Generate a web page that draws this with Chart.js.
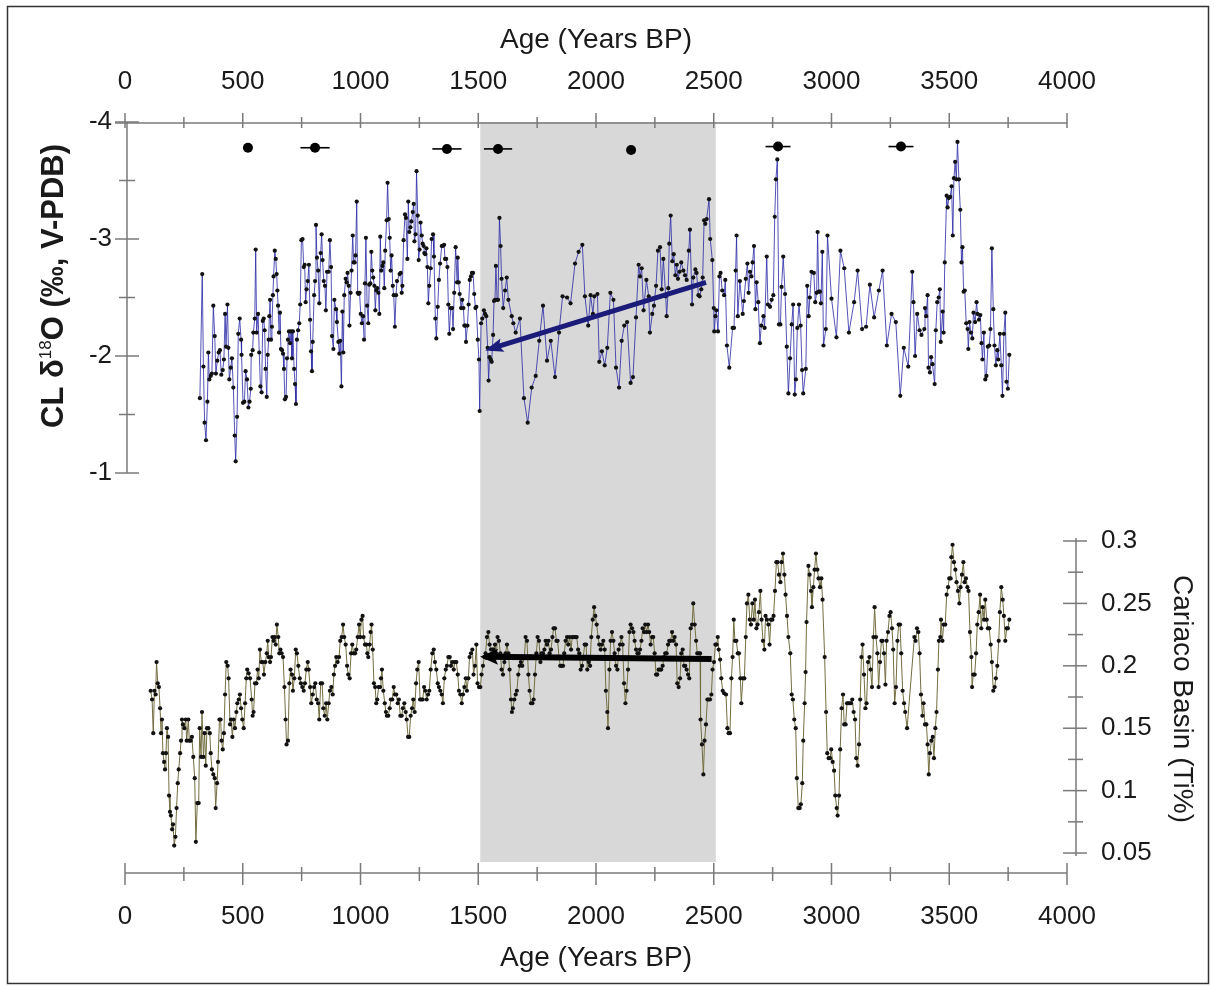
<!DOCTYPE html>
<html lang="en">
<head>
    <meta charset="UTF-8">
    <title>CL d18O and Cariaco Ti</title>
    <style>
        html, body { margin: 0; padding: 0; background: #fff; }
        canvas { display: block; }
    </style>
</head>
<body>
    <canvas id="myChart" width="1214" height="986"></canvas>

    <script src="https://cdn.jsdelivr.net/npm/chart.js"></script>

    <script>
        // CL d18O record (age in years BP, permil V-PDB)
        const clAge = [
            318,328,333,338,344,350,354,358,364,369,
            375,381,386,392,398,403,409,415,420,425,
            429,435,439,443,449,454,460,466,470,476,
            481,487,493,495,501,507,512,518,524,529,
            534,536,542,545,551,555,559,565,570,575,
            580,585,589,593,597,602,606,610,613,616,
            620,624,628,631,636,640,644,647,650,654,
            658,662,667,671,675,679,684,688,692,696,
            701,705,709,713,718,722,726,730,735,740,
            744,749,754,759,763,767,771,776,781,786,
            790,794,797,803,807,811,815,820,825,831,
            835,839,844,849,853,858,865,870,875,879,
            885,889,896,900,906,910,914,919,923,927,
            931,937,941,945,950,953,958,962,967,971,
            975,979,984,988,992,996,1001,1006,1011,1015,
            1019,1023,1028,1033,1037,1042,1046,1050,1054,1059,
            1063,1067,1071,1076,1080,1084,1088,1093,1097,1101,
            1105,1111,1115,1120,1124,1128,1132,1137,1141,1146,
            1151,1155,1166,1171,1175,1178,1183,1189,1193,1199,
            1203,1207,1212,1216,1222,1226,1229,1234,1238,1243,
            1247,1251,1255,1260,1264,1268,1271,1275,1280,1284,
            1288,1292,1298,1302,1308,1312,1318,1322,1328,1333,
            1338,1345,1349,1355,1359,1364,1369,1373,1377,1383,
            1389,1393,1398,1404,1410,1413,1417,1421,1427,1432,
            1437,1441,1445,1448,1454,1459,1464,1469,1473,1478,
            1483,1488,1492,1498,1503,1506,1512,1517,1524,1529,
            1534,1540,1544,1548,1553,1557,1563,1567,1571,1575,
            1580,1584,1590,1595,1599,1606,1614,1621,1628,1642,
            1649,1659,1677,1694,1710,1727,1744,1759,1775,1792,
            1808,1826,1843,1858,1877,1892,1911,1926,1942,1953,
            1967,1977,1987,1993,2006,2014,2025,2037,2048,2061,
            2074,2085,2098,2109,2120,2132,2147,2157,2170,2181,
            2187,2194,2202,2214,2224,2229,2239,2246,2255,2263,
            2272,2279,2286,2296,2300,2307,2311,2317,2324,2330,
            2337,2343,2348,2355,2362,2371,2378,2385,2394,2399,
            2408,2413,2422,2427,2435,2440,2447,2453,2459,2464,
            2470,2480,2485,2494,2500,2502,2507,2511,2518,2524,
            2529,2536,2544,2549,2556,2566,2580,2586,2593,2597,
            2602,2611,2623,2628,2636,2643,2648,2654,2660,2665,
            2671,2677,2682,2689,2696,2702,2711,2716,2725,2730,
            2739,2746,2753,2759,2764,2770,2777,2783,2788,2795,
            2803,2810,2817,2824,2831,2837,2844,2849,2855,2862,
            2869,2875,2880,2891,2897,2903,2908,2915,2925,2931,
            2937,2941,2946,2951,2955,2961,2966,2976,2983,3000,
            3021,3038,3054,3074,3096,3111,3130,3147,3163,3181,
            3201,3217,3235,3255,3273,3292,3307,3326,3343,3348,
            3355,3364,3374,3382,3394,3397,3402,3408,3412,3418,
            3423,3429,3438,3443,3449,3455,3460,3464,3472,3476,
            3481,3489,3493,3498,3504,3510,3515,3520,3525,3530,
            3535,3541,3547,3552,3556,3561,3566,3572,3578,3581,
            3586,3592,3598,3603,3610,3616,3620,3626,3632,3637,
            3641,3647,3653,3658,3664,3670,3675,3681,3687,3692,
            3698,3704,3708,3715,3721,3726,3732,3738,3743,3749,3755
        ];
        const clD18O = [
            -1.64,-2.70,-1.91,-1.43,-1.28,-1.61,-2.03,-1.80,-1.83,-1.85,
            -2.43,-2.17,-1.85,-1.96,-2.03,-2.05,-1.84,-1.88,-1.97,-2.36,
            -2.08,-2.44,-2.07,-1.80,-1.90,-1.98,-1.73,-1.32,-1.10,-1.48,
            -2.19,-2.32,-2.14,-2.01,-1.60,-1.61,-1.87,-1.80,-1.56,-1.61,
            -1.72,-2.01,-2.05,-2.20,-2.32,-2.91,-2.20,-2.36,-2.03,-1.74,
            -1.69,-2.30,-2.32,-2.22,-1.89,-1.65,-2.01,-2.14,-2.34,-2.48,
            -2.14,-2.25,-2.52,-2.68,-2.90,-2.83,-2.70,-2.56,-2.43,-2.20,
            -2.37,-2.06,-2.05,-2.02,-1.89,-1.63,-1.65,-1.98,-2.14,-2.21,
            -2.11,-2.21,-1.98,-2.21,-1.89,-1.76,-1.59,-2.14,-2.22,-2.28,
            -2.44,-2.99,-3.00,-2.76,-2.78,-2.46,-2.57,-2.64,-2.78,-2.31,
            -2.04,-1.87,-2.12,-2.52,-2.64,-3.12,-2.84,-2.73,-2.45,-2.88,
            -3.04,-2.82,-2.64,-2.60,-2.39,-2.72,-2.72,-2.99,-2.76,-2.17,
            -2.06,-2.48,-2.40,-2.29,-2.12,-2.02,-2.13,-1.74,-2.38,-2.03,
            -2.52,-2.66,-2.63,-2.71,-2.60,-2.26,-2.54,-2.73,-3.03,-2.80,
            -2.80,-2.86,-3.32,-2.54,-2.53,-2.54,-2.36,-2.28,-2.34,-2.14,
            -2.62,-3.01,-2.43,-2.28,-2.61,-2.62,-2.89,-2.73,-2.67,-2.60,
            -2.39,-2.56,-2.58,-2.54,-2.36,-3.02,-2.73,-2.77,-2.80,-2.58,
            -2.90,-3.16,-3.48,-3.17,-3.01,-2.73,-2.86,-2.60,-2.52,-2.25,
            -2.52,-2.64,-2.70,-2.71,-2.54,-2.60,-2.99,-3.21,-3.18,-2.83,
            -3.32,-3.06,-3.10,-3.15,-3.23,-3.30,-2.98,-3.04,-3.58,-3.20,
            -2.82,-2.91,-3.14,-3.03,-2.96,-2.94,-2.88,-2.87,-2.92,-2.76,
            -2.45,-2.60,-2.75,-3.00,-3.04,-2.85,-2.32,-2.15,-2.42,-2.65,
            -2.79,-2.94,-2.94,-2.95,-2.83,-2.83,-2.76,-2.44,-2.19,-2.41,
            -2.41,-2.23,-2.54,-2.93,-2.63,-2.84,-2.63,-2.53,-2.41,-2.48,
            -2.41,-2.26,-2.26,-2.12,-2.26,-2.44,-2.65,-2.68,-2.71,-2.71,
            -2.53,-2.41,-2.42,-2.14,-1.97,-1.53,-2.28,-2.32,-2.39,-2.36,
            -2.34,-2.07,-1.79,-1.99,-1.97,-1.95,-2.18,-2.47,-2.48,-2.77,
            -2.48,-2.48,-3.18,-2.94,-2.66,-2.41,-2.56,-2.67,-2.48,-2.34,
            -2.28,-2.20,-2.32,-1.64,-1.43,-1.73,-1.83,-2.13,-2.43,-1.96,
            -2.13,-1.82,-2.20,-2.51,-2.50,-2.45,-2.79,-2.89,-2.95,-2.51,
            -2.26,-2.52,-2.36,-2.51,-2.53,-1.95,-2.04,-1.92,-2.07,-2.54,
            -2.48,-1.90,-1.73,-2.13,-2.26,-2.29,-1.77,-1.82,-2.33,-2.78,
            -2.68,-2.75,-2.39,-2.65,-2.51,-2.20,-2.36,-2.43,-2.60,-2.90,
            -2.93,-2.57,-2.83,-2.51,-2.34,-2.58,-2.96,-3.20,-2.81,-2.87,
            -2.69,-2.78,-2.66,-2.72,-2.80,-2.73,-2.69,-2.65,-2.90,-3.08,
            -2.44,-2.67,-2.74,-2.71,-2.52,-2.51,-2.57,-2.67,-3.16,-3.13,
            -3.17,-3.34,-3.00,-2.82,-2.41,-2.21,-2.34,-2.39,-2.21,-2.68,
            -2.71,-2.56,-2.52,-2.65,-2.09,-1.90,-2.24,-2.24,-2.73,-3.03,
            -2.34,-2.64,-2.36,-2.47,-2.66,-2.79,-2.54,-2.72,-2.68,-2.80,
            -2.94,-2.40,-2.63,-2.46,-2.11,-2.26,-2.34,-2.24,-2.85,-2.44,
            -2.42,-2.48,-2.52,-3.19,-3.51,-3.68,-2.27,-2.27,-2.59,-2.85,
            -2.53,-2.08,-1.68,-1.98,-2.27,-2.44,-1.67,-1.80,-2.24,-2.44,
            -2.26,-1.88,-1.68,-1.89,-2.60,-2.34,-2.50,-2.72,-2.71,-2.46,
            -2.54,-3.06,-2.55,-2.55,-2.45,-2.89,-2.09,-2.23,-3.03,-2.49,
            -2.16,-2.90,-2.75,-2.20,-2.46,-2.73,-2.23,-2.25,-2.61,-2.33,
            -2.56,-2.73,-2.09,-2.36,-2.29,-1.66,-2.07,-1.91,-2.72,-2.46,
            -2.00,-2.36,-2.22,-2.18,-2.23,-2.41,-2.34,-2.52,-1.90,-1.86,
            -1.99,-1.93,-1.76,-2.22,-2.46,-2.50,-2.57,-2.12,-2.38,-2.20,
            -2.80,-3.37,-3.27,-3.35,-3.36,-3.45,-3.03,-3.52,-3.66,-3.51,
            -3.83,-3.51,-3.25,-2.80,-2.93,-2.55,-2.56,-2.28,-2.23,-2.06,
            -2.29,-2.20,-2.15,-2.37,-2.29,-2.46,-2.36,-2.31,-2.35,-2.11,
            -1.97,-2.20,-1.80,-1.83,-2.08,-2.09,-2.23,-2.92,-2.40,-2.09,
            -1.92,-2.05,-1.97,-2.19,-1.92,-1.66,-2.19,-2.37,-1.78,-1.72,-2.01
        ];

        // Cariaco Basin Ti record (age in years BP, Ti %)
        const tiAge = [
            109,115,120,125,130,134,139,144,149,153,
            157,161,166,170,174,178,183,187,191,195,
            200,204,209,214,219,224,228,234,238,242,
            246,252,258,262,269,273,279,284,290,296,
            301,307,313,317,323,327,333,338,343,348,
            354,360,364,369,375,381,385,391,395,401,
            406,410,415,420,425,430,436,440,446,450,
            456,461,467,473,477,483,488,493,498,504,
            510,515,519,525,531,538,542,546,552,558,
            563,568,573,579,585,590,596,602,606,610,
            616,620,626,631,636,640,645,651,655,660,
            665,671,677,682,686,692,698,703,709,713,
            719,725,730,736,742,747,753,759,764,770,
            776,780,786,791,797,803,808,814,820,825,
            831,837,842,848,854,859,865,870,876,882,
            887,892,897,903,909,914,920,926,931,937,
            943,948,954,960,965,971,977,982,988,994,
            999,1004,1009,1013,1019,1025,1029,1033,1039,1043,
            1047,1052,1057,1062,1067,1071,1077,1083,1087,1091,
            1097,1103,1108,1112,1118,1124,1129,1135,1141,1146,
            1152,1158,1163,1169,1175,1180,1186,1192,1196,1202,
            1207,1213,1219,1224,1230,1236,1241,1247,1253,1258,
            1264,1270,1275,1281,1287,1292,1298,1305,1311,1316,
            1322,1328,1333,1339,1345,1350,1356,1362,1367,1373,
            1379,1384,1390,1396,1401,1407,1413,1418,1424,1430,
            1435,1441,1447,1452,1458,1463,1469,1475,1480,1486,
            1492,1497,1503,1509,1514,1520,1526,1531,1537,1543,
            1548,1554,1560,1565,1571,1577,1582,1588,1594,1599,
            1605,1611,1616,1622,1628,1633,1639,1643,1647,1653,
            1659,1664,1670,1676,1681,1687,1696,1701,1707,1713,
            1718,1724,1730,1735,1741,1747,1752,1758,1764,1769,
            1775,1781,1786,1792,1798,1803,1809,1815,1820,1826,
            1832,1837,1843,1848,1854,1860,1865,1871,1877,1882,
            1888,1894,1899,1905,1912,1918,1924,1929,1935,1941,
            1946,1952,1958,1963,1969,1975,1980,1986,1992,1997,
            2003,2009,2014,2020,2025,2031,2037,2042,2048,2051,
            2057,2062,2068,2074,2079,2085,2091,2096,2102,2108,
            2113,2119,2125,2130,2136,2142,2147,2153,2159,2164,
            2170,2176,2181,2187,2193,2198,2204,2209,2215,2221,
            2226,2232,2238,2243,2249,2255,2260,2266,2272,2277,
            2283,2289,2294,2300,2306,2311,2317,2323,2328,2334,
            2340,2345,2351,2357,2362,2368,2374,2379,2385,2391,
            2396,2402,2408,2413,2419,2425,2430,2436,2442,2444,
            2450,2456,2461,2467,2473,2478,2484,2490,2495,2501,
            2507,2512,2517,2521,2527,2532,2538,2544,2552,2558,
            2563,2569,2575,2580,2585,2590,2596,2602,2607,2613,
            2617,2624,2630,2636,2641,2647,2653,2658,2664,2670,
            2675,2681,2686,2692,2698,2703,2709,2715,2720,2726,
            2732,2737,2743,2749,2754,2760,2766,2771,2777,2783,
            2788,2794,2800,2805,2811,2817,2825,2831,2836,2842,
            2848,2853,2859,2865,2870,2876,2880,2886,2890,2894,
            2902,2907,2913,2917,2923,2928,2934,2940,2945,2951,
            2957,2962,2971,2977,2982,2988,2994,2999,3005,3011,
            3016,3022,3026,3032,3037,3043,3049,3054,3060,3066,
            3071,3077,3083,3088,3094,3100,3105,3111,3117,3122,
            3127,3132,3138,3144,3149,3155,3161,3166,3172,3178,
            3183,3189,3195,3200,3206,3212,3217,3223,3229,3234,
            3240,3246,3251,3257,3262,3268,3274,3280,3285,3291,
            3296,3302,3308,3313,3321,3352,3357,3363,3369,3374,
            3380,3386,3391,3397,3403,3408,3413,3418,3424,3430,
            3435,3441,3446,3452,3456,3462,3465,3471,3476,3483,
            3489,3495,3500,3506,3509,3514,3520,3526,3531,3537,
            3543,3548,3554,3560,3565,3571,3577,3582,3588,3594,
            3597,3602,3608,3614,3619,3625,3631,3636,3642,3648,
            3653,3659,3664,3670,3676,3681,3687,3693,3698,3704,
            3710,3715,3721,3727,3732,3738,3744,3749,3755
        ];
        const tiPct = [
            0.180,0.173,0.146,0.180,0.177,0.203,0.186,0.183,0.166,0.146,
            0.157,0.130,0.123,0.117,0.130,0.150,0.143,0.096,0.083,0.080,
            0.069,0.073,0.056,0.063,0.086,0.106,0.117,0.130,0.140,0.157,
            0.153,0.150,0.157,0.140,0.157,0.140,0.140,0.143,0.127,0.110,
            0.059,0.090,0.090,0.150,0.127,0.163,0.127,0.146,0.120,0.150,
            0.150,0.146,0.130,0.117,0.113,0.110,0.086,0.106,0.123,0.157,
            0.157,0.140,0.133,0.146,0.177,0.203,0.200,0.190,0.153,0.157,
            0.143,0.157,0.150,0.163,0.170,0.173,0.177,0.166,0.157,0.150,
            0.170,0.190,0.197,0.194,0.190,0.173,0.160,0.163,0.186,0.186,
            0.197,0.190,0.213,0.203,0.203,0.193,0.203,0.210,0.220,0.207,
            0.203,0.207,0.223,0.220,0.223,0.217,0.233,0.223,0.210,0.213,
            0.210,0.207,0.183,0.157,0.137,0.140,0.186,0.197,0.193,0.180,
            0.190,0.213,0.210,0.200,0.190,0.186,0.183,0.180,0.186,0.197,
            0.203,0.197,0.183,0.170,0.177,0.183,0.186,0.173,0.170,0.157,
            0.186,0.186,0.166,0.160,0.170,0.157,0.170,0.180,0.183,0.177,
            0.193,0.200,0.207,0.203,0.207,0.220,0.223,0.233,0.223,0.217,
            0.200,0.193,0.190,0.210,0.217,0.210,0.210,0.213,0.223,0.233,
            0.223,0.237,0.240,0.223,0.217,0.217,0.210,0.207,0.217,0.227,
            0.233,0.213,0.186,0.183,0.170,0.173,0.183,0.183,0.190,0.197,
            0.180,0.170,0.163,0.160,0.160,0.166,0.173,0.173,0.183,0.177,
            0.177,0.170,0.173,0.160,0.160,0.166,0.170,0.163,0.157,0.143,
            0.143,0.160,0.166,0.173,0.163,0.186,0.197,0.203,0.173,0.173,
            0.173,0.183,0.180,0.173,0.177,0.180,0.197,0.210,0.213,0.203,
            0.197,0.186,0.183,0.180,0.177,0.170,0.190,0.197,0.200,0.207,
            0.207,0.200,0.203,0.197,0.203,0.203,0.193,0.180,0.177,0.170,
            0.177,0.183,0.190,0.180,0.190,0.207,0.210,0.213,0.193,0.200,
            0.217,0.186,0.183,0.183,0.193,0.200,0.207,0.210,0.223,0.227,
            0.217,0.213,0.213,0.213,0.217,0.210,0.223,0.220,0.210,0.197,
            0.193,0.203,0.210,0.217,0.210,0.197,0.173,0.163,0.166,0.173,
            0.177,0.180,0.193,0.200,0.203,0.200,0.207,0.223,0.220,0.193,
            0.180,0.170,0.170,0.173,0.193,0.210,0.223,0.220,0.203,0.210,
            0.210,0.213,0.220,0.217,0.220,0.210,0.213,0.223,0.230,0.230,
            0.220,0.220,0.207,0.200,0.200,0.200,0.210,0.220,0.223,0.217,
            0.223,0.213,0.223,0.223,0.223,0.223,0.213,0.210,0.197,0.200,
            0.207,0.217,0.217,0.197,0.203,0.200,0.223,0.237,0.247,0.240,
            0.233,0.223,0.217,0.213,0.217,0.220,0.213,0.180,0.163,0.150,
            0.197,0.220,0.227,0.220,0.210,0.200,0.197,0.213,0.217,0.223,
            0.217,0.186,0.170,0.180,0.197,0.227,0.233,0.230,0.227,0.220,
            0.213,0.210,0.210,0.213,0.220,0.230,0.227,0.233,0.227,0.233,
            0.227,0.217,0.223,0.223,0.210,0.193,0.193,0.197,0.197,0.197,
            0.200,0.207,0.210,0.210,0.217,0.220,0.220,0.227,0.220,0.223,
            0.217,0.186,0.183,0.190,0.210,0.213,0.200,0.200,0.197,0.193,
            0.190,0.230,0.233,0.250,0.233,0.220,0.210,0.210,0.210,0.157,
            0.137,0.113,0.140,0.153,0.173,0.173,0.173,0.177,0.197,0.203,
            0.217,0.217,0.223,0.213,0.205,0.190,0.180,0.178,0.177,0.150,
            0.146,0.146,0.190,0.207,0.237,0.220,0.220,0.210,0.210,0.190,
            0.170,0.190,0.190,0.223,0.250,0.257,0.237,0.233,0.250,0.237,
            0.253,0.230,0.233,0.243,0.260,0.237,0.220,0.213,0.240,0.237,
            0.233,0.217,0.237,0.237,0.240,0.260,0.283,0.283,0.273,0.267,
            0.283,0.290,0.273,0.257,0.240,0.223,0.210,0.177,0.173,0.157,
            0.150,0.110,0.086,0.086,0.089,0.106,0.140,0.170,0.195,0.235,
            0.280,0.273,0.260,0.247,0.263,0.277,0.290,0.277,0.270,0.263,
            0.270,0.253,0.207,0.163,0.130,0.126,0.126,0.133,0.123,0.116,
            0.096,0.086,0.080,0.096,0.133,0.166,0.177,0.153,0.153,0.170,
            0.170,0.170,0.170,0.173,0.163,0.157,0.126,0.120,0.137,0.173,
            0.207,0.217,0.193,0.166,0.170,0.203,0.207,0.197,0.183,0.223,
            0.247,0.223,0.210,0.183,0.203,0.220,0.220,0.210,0.185,0.220,
            0.227,0.240,0.243,0.230,0.213,0.170,0.183,0.220,0.233,0.233,
            0.210,0.180,0.170,0.163,0.150,0.223,0.220,0.230,0.227,0.210,
            0.177,0.160,0.170,0.153,0.153,0.137,0.113,0.130,0.140,0.143,
            0.126,0.150,0.163,0.197,0.220,0.223,0.237,0.220,0.233,0.233,
            0.257,0.263,0.270,0.270,0.287,0.297,0.283,0.277,0.267,0.260,
            0.250,0.263,0.273,0.283,0.267,0.270,0.263,0.260,0.227,0.207,
            0.183,0.193,0.193,0.210,0.233,0.243,0.257,0.230,0.247,0.237,
            0.253,0.237,0.230,0.230,0.217,0.203,0.180,0.183,0.190,0.200,
            0.220,0.243,0.263,0.253,0.240,0.220,0.230,0.230,0.237
        ];

        // U-Th dates with 2-sigma age errors, plotted along the top
        const datingAge = [522, 807, 1367, 1584, 2149, 2773, 3295];
        const datingErr = [18, 62, 62, 60, 10, 53, 53];
        const datingLevel = [-3.78, -3.78, -3.77, -3.77, -3.76, -3.79, -3.79];

        const ageTicks = [0, 500, 1000, 1500, 2000, 2500, 3000, 3500, 4000];
        const ageMinorTicks = [250, 750, 1250, 1750, 2250, 2750, 3250, 3750];
        const d18oTicks = [-4, -3, -2, -1];
        const d18oMinorTicks = [-3.5, -2.5, -1.5];
        const tiTicks = [0.05, 0.1, 0.15, 0.2, 0.25, 0.3];
        const tiMinorTicks = [0.075, 0.125, 0.175, 0.225, 0.275];

        const shadeFrom = 1500;
        const shadeTo = 2500;

        // trend arrows: tail first, head last
        const blueArrowAge = [2467, 1550];
        const blueArrowVal = [-2.63, -2.06];
        const blackArrowAge = [2491, 1529];
        const blackArrowVal = [0.2055, 0.2073];

        const FONT = "'Liberation Sans', Arial, sans-serif";
        const AXIS_GRAY = '#7a7a7a';

        const toXY = (xs, ys) => xs.map((v, i) => ({ x: v, y: ys[i] }));

        function arrowHead(ctx, meta, color, len, half) {
            const pts = meta.data;
            const a = pts[pts.length - 2], b = pts[pts.length - 1];
            const ang = Math.atan2(b.y - a.y, b.x - a.x);
            const tx = b.x + Math.cos(ang) * 5, ty = b.y + Math.sin(ang) * 5;
            ctx.save();
            ctx.fillStyle = color;
            ctx.translate(tx, ty);
            ctx.rotate(ang);
            ctx.beginPath();
            ctx.moveTo(0, 0);
            ctx.lineTo(-len, -half);
            ctx.lineTo(-len * 0.8, 0);
            ctx.lineTo(-len, half);
            ctx.closePath();
            ctx.fill();
            ctx.restore();
        }

        const figurePlugin = {
            id: 'figure',
            beforeDraw(chart) {
                const ctx = chart.ctx;
                ctx.save();
                ctx.fillStyle = '#fff';
                ctx.fillRect(0, 0, chart.width, chart.height);
                ctx.restore();
            },
            beforeDatasetsDraw(chart) {
                const { ctx, chartArea: a, scales: { x } } = chart;
                const x0 = x.getPixelForValue(shadeFrom), x1 = x.getPixelForValue(shadeTo);
                ctx.save();
                ctx.fillStyle = '#d8d8d8';
                ctx.fillRect(x0 + 2, a.top, x1 - x0, a.bottom - 8 - a.top);
                ctx.restore();
            },
            afterDatasetsDraw(chart) {
                const { ctx, scales: { x, y } } = chart;
                // error bars on dates
                ctx.save();
                ctx.strokeStyle = '#000';
                ctx.lineWidth = 1.6;
                datingAge.forEach((age, i) => {
                    const py = y.getPixelForValue(datingLevel[i]);
                    ctx.beginPath();
                    ctx.moveTo(x.getPixelForValue(age - datingErr[i]), py);
                    ctx.lineTo(x.getPixelForValue(age + datingErr[i]), py);
                    ctx.stroke();
                });
                ctx.restore();
                arrowHead(ctx, chart.getDatasetMeta(0), '#1b1b7a', 18, 7);
                arrowHead(ctx, chart.getDatasetMeta(1), '#000', 18, 8);
            },
            afterDraw(chart) {
                const { ctx, chartArea: a, scales: { x, y, y2 } } = chart;
                ctx.save();
                ctx.strokeStyle = AXIS_GRAY;
                ctx.lineWidth = 1.5;
                const line = (x0, y0, x1, y1) => {
                    ctx.beginPath(); ctx.moveTo(x0, y0); ctx.lineTo(x1, y1); ctx.stroke();
                };
                // top age axis
                const yt = a.top + 1;
                line(x.getPixelForValue(0) - 10, yt, x.getPixelForValue(4000), yt);
                ageTicks.forEach(v => { const px = x.getPixelForValue(v); line(px, yt - 10, px, yt + 5); });
                ageMinorTicks.forEach(v => { const px = x.getPixelForValue(v); line(px, yt - 6, px, yt + 5); });
                // bottom age axis
                const yb = a.bottom + 3;
                line(x.getPixelForValue(0), yb, x.getPixelForValue(4000), yb);
                ageTicks.forEach(v => { const px = x.getPixelForValue(v); line(px, yb - 10, px, yb + 12); });
                ageMinorTicks.forEach(v => { const px = x.getPixelForValue(v); line(px, yb - 6, px, yb + 8); });
                // left d18O axis
                const xl = a.left + 2;
                line(xl, y.getPixelForValue(-4), xl, y.getPixelForValue(-1));
                d18oTicks.forEach(v => { const py = y.getPixelForValue(v); line(xl - 12, py, xl + 12, py); });
                d18oMinorTicks.forEach(v => { const py = y.getPixelForValue(v); line(xl - 8, py, xl + 8, py); });
                // right Ti axis
                const xr = a.right + 9;
                line(xr, y2.getPixelForValue(0.3) - 3, xr, y2.getPixelForValue(0.05) + 3);
                tiTicks.forEach(v => { const py = y2.getPixelForValue(v); line(xr - 13, py, xr + 11, py); });
                tiMinorTicks.forEach(v => { const py = y2.getPixelForValue(v); line(xr - 8, py, xr + 7, py); });

                // axis titles
                ctx.fillStyle = '#1a1a1a';
                ctx.textAlign = 'center';
                ctx.textBaseline = 'middle';
                ctx.font = `28px ${FONT}`;
                const cx = (x.getPixelForValue(0) + x.getPixelForValue(4000)) / 2;
                ctx.fillText('Age (Years BP)', cx, 40);
                ctx.fillText('Age (Years BP)', cx, 958);

                ctx.save();
                ctx.translate(1182, 699);
                ctx.rotate(Math.PI / 2);
                ctx.fillText('Cariaco Basin (Ti%)', 0, 0);
                ctx.restore();

                // left title with superscript 18
                ctx.save();
                ctx.translate(52, 286);
                ctx.rotate(-Math.PI / 2);
                ctx.textAlign = 'left';
                ctx.textBaseline = 'alphabetic';
                const big = `bold 31px ${FONT}`, small = `17px ${FONT}`;
                const parts = [['CL \u03b4', big, 0], ['18', small, -12], ['O (\u2030, V-PDB)', big, 0]];
                let total = 0;
                parts.forEach(p => { ctx.font = p[1]; total += ctx.measureText(p[0]).width; });
                let px = -total / 2;
                parts.forEach(p => {
                    ctx.font = p[1];
                    ctx.fillText(p[0], px, 11 + p[2]);
                    px += ctx.measureText(p[0]).width;
                });
                ctx.restore();

                // outer frame
                ctx.strokeStyle = '#333';
                ctx.lineWidth = 1.5;
                ctx.strokeRect(7.5, 6.5, 1201, 977);
                ctx.restore();
            }
        };

        const tickFont = { family: FONT, size: 26 };
        const noGrid = { display: false, drawTicks: false };

        function ageScale(position, height, pad) {
            return {
                type: 'linear',
                position,
                min: 0,
                max: 4000,
                grid: noGrid,
                border: { display: false },
                afterBuildTicks: s => { s.ticks = ageTicks.map(v => ({ value: v })); },
                afterFit: s => { s.height = height; },
                ticks: { font: tickFont, color: '#1a1a1a', padding: pad, maxRotation: 0, callback: v => String(v) }
            };
        }

        const ctx = document.getElementById('myChart');
        new Chart(ctx, {
            data: {
                datasets: [
                    {
                        type: 'line', label: 'trend CL', data: toXY(blueArrowAge, blueArrowVal),
                        xAxisID: 'x', yAxisID: 'y', borderColor: '#1b1b7a', borderWidth: 5,
                        pointRadius: 0, borderCapStyle: 'butt'
                    },
                    {
                        type: 'line', label: 'trend Ti', data: toXY(blackArrowAge, blackArrowVal),
                        xAxisID: 'x', yAxisID: 'y2', borderColor: '#000', borderWidth: 6,
                        pointRadius: 0, borderCapStyle: 'butt'
                    },
                    {
                        type: 'scatter', label: 'dates', data: toXY(datingAge, datingLevel),
                        xAxisID: 'x', yAxisID: 'y', pointRadius: 5, pointBackgroundColor: '#000',
                        pointBorderWidth: 0
                    },
                    {
                        type: 'line', label: 'CL d18O', data: toXY(clAge, clD18O),
                        xAxisID: 'x', yAxisID: 'y', borderColor: 'rgba(40,40,165,0.8)', borderWidth: 1,
                        pointRadius: 2.1, pointBackgroundColor: '#111', pointBorderWidth: 0, tension: 0
                    },
                    {
                        type: 'line', label: 'Cariaco Ti', data: toXY(tiAge, tiPct),
                        xAxisID: 'x', yAxisID: 'y2', borderColor: 'rgb(115,110,65)', borderWidth: 1,
                        pointRadius: 2.1, pointBackgroundColor: '#111', pointBorderWidth: 0, tension: 0
                    }
                ]
            },
            options: {
                responsive: false,
                devicePixelRatio: 1,
                animation: false,
                layout: { padding: 0 },
                plugins: { legend: { display: false }, tooltip: { enabled: false } },
                scales: {
                    x: ageScale('bottom', 116, 31),
                    xTop: ageScale('top', 122, 25),
                    y: {
                        type: 'linear', position: 'left', reverse: true,
                        min: -4, max: 2.393,
                        grid: noGrid, border: { display: false },
                        afterBuildTicks: s => { s.ticks = d18oTicks.map(v => ({ value: v })); },
                        afterFit: s => { s.width = 125; },
                        ticks: { font: tickFont, color: '#1a1a1a', padding: 13, callback: v => String(v) }
                    },
                    y2: {
                        type: 'linear', position: 'right',
                        min: 0.0364, max: 0.6357,
                        grid: noGrid, border: { display: false },
                        afterBuildTicks: s => { s.ticks = tiTicks.map(v => ({ value: v })); },
                        afterFit: s => { s.width = 147; },
                        ticks: { font: tickFont, color: '#1a1a1a', padding: 34, callback: v => String(+v.toFixed(2)) }
                    }
                }
            },
            plugins: [figurePlugin]
        });
    </script>
</body>
</html>
